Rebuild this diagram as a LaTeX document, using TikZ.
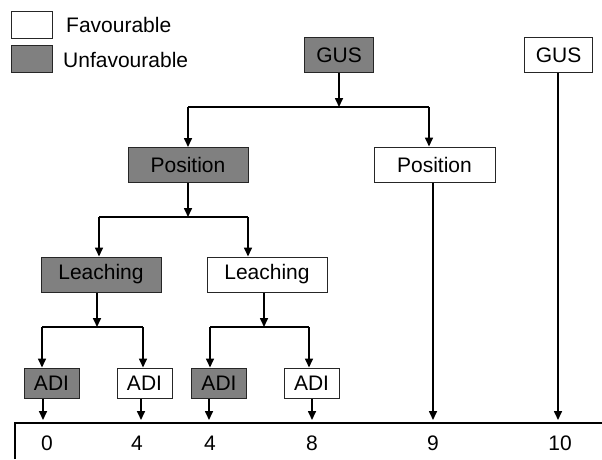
\documentclass[tikz,border=0pt]{standalone}
\usepackage{fontspec}
\setmainfont{Liberation Sans}
\usepackage{xcolor}
\usepackage{tikz}
\usetikzlibrary{arrows.meta}
\definecolor{unfavgray}{RGB}{128,128,128}

\begin{document}
\begin{tikzpicture}[x=1pt, y=-1pt,
    box/.style={draw=black!85, line width=1pt, inner sep=0pt, minimum height=35pt,
                font=\fontsize{21}{24}\selectfont},
    fav/.style={box, fill=white},
    unfav/.style={box, fill=unfavgray},
    adibox/.style={minimum width=55pt, minimum height=30pt},
    txt/.style={inner sep=0pt, font=\fontsize{21}{24}\selectfont},
    arr/.style={line width=1.6pt, -{Triangle[length=9pt, width=8pt]}},
    link/.style={line width=1.1pt}]
        \useasboundingbox (0,0) rectangle (602,459);

        % Legend
        \node[fav, minimum width=41pt, minimum height=27pt] (legfav) at (31.5,24.5) {};
        \node[unfav, minimum width=41pt, minimum height=27pt] (legunfav) at (31.5,58.5) {};
        \node[txt, anchor=west] (legfavtxt) at (66,25) {Favourable};
        \node[txt, anchor=west] (legunfavtxt) at (63,60) {Unfavourable};

        % Decision boxes
        \node[unfav, minimum width=69pt] (gus1) at (339,55) {GUS};
        \node[fav, minimum width=68pt] (gus2) at (558.5,55) {GUS};
        \node[unfav, minimum width=120pt] (pos1) at (188,165) {Position};
        \node[fav, minimum width=121pt] (pos2) at (434.5,164.5) {Position};
        \node[unfav, minimum width=120pt] (leach1) at (101,274.5) {Leaching};
        \node[fav, minimum width=120pt] (leach2) at (267,274.5) {Leaching};
        \node[unfav, adibox] (adi1) at (51.5,383) {ADI};
        \node[fav, adibox] (adi2) at (144.5,383) {ADI};
        \node[unfav, adibox] (adi3) at (219,383) {ADI};
        \node[fav, adibox] (adi4) at (311.5,383) {ADI};

        % Branch points
        \coordinate (j0) at (339,107);
        \coordinate (d1) at (188,107);
        \coordinate (d2) at (429,107);
        \coordinate (j1) at (188,217);
        \coordinate (e1) at (99,217);
        \coordinate (e2) at (248,217);
        \coordinate (j2) at (97,327);
        \coordinate (j3) at (264,327);
        \coordinate (f1) at (42,327);
        \coordinate (f2) at (143,327);
        \coordinate (f3) at (210,327);
        \coordinate (f4) at (309,327);

        % Scale
        \coordinate (ax0) at (15,459);
        \coordinate (axl) at (15,423);
        \coordinate (axr) at (602,423);
        \coordinate (o1) at (43,420);
        \coordinate (o2) at (141,420);
        \coordinate (o3) at (209,420);
        \coordinate (o4) at (312,420);
        \coordinate (o5) at (433,420);
        \coordinate (o6) at (558,420);
        \draw[link] (ax0) -- (axl) -- (axr);
        \node[txt] (v1) at (47,443) {0};
        \node[txt] (v2) at (137,443) {4};
        \node[txt] (v3) at (210,443) {4};
        \node[txt] (v4) at (312,443) {8};
        \node[txt] (v5) at (433,443) {9};
        \node[txt] (v6) at (560,443) {10};

        % GUS level
        \draw[arr] (gus1) -- (j0);
        \draw[link] (d1) -- (d2);
        \draw[arr] (d1) -- (d1 |- pos1.north);
        \draw[arr] (d2) -- (d2 |- pos2.north);
        \draw[arr] (o6 |- gus2.south) -- (o6);

        % Position level
        \draw[arr] (pos1) -- (j1);
        \draw[link] (e1) -- (e2);
        \draw[arr] (e1) -- (e1 |- leach1.north);
        \draw[arr] (e2) -- (e2 |- leach2.north);
        \draw[arr] (o5 |- pos2.south) -- (o5);

        % Leaching level
        \draw[arr] (j2 |- leach1.south) -- (j2);
        \draw[arr] (j3 |- leach2.south) -- (j3);
        \draw[link] (f1) -- (f2);
        \draw[link] (f3) -- (f4);
        \draw[arr] (f1) -- (f1 |- adi1.north);
        \draw[arr] (f2) -- (f2 |- adi2.north);
        \draw[arr] (f3) -- (f3 |- adi3.north);
        \draw[arr] (f4) -- (f4 |- adi4.north);

        % ADI level
        \draw[arr] (o1 |- adi1.south) -- (o1);
        \draw[arr] (o2 |- adi2.south) -- (o2);
        \draw[arr] (o3 |- adi3.south) -- (o3);
        \draw[arr] (o4 |- adi4.south) -- (o4);
    \end{tikzpicture}
\end{document}
